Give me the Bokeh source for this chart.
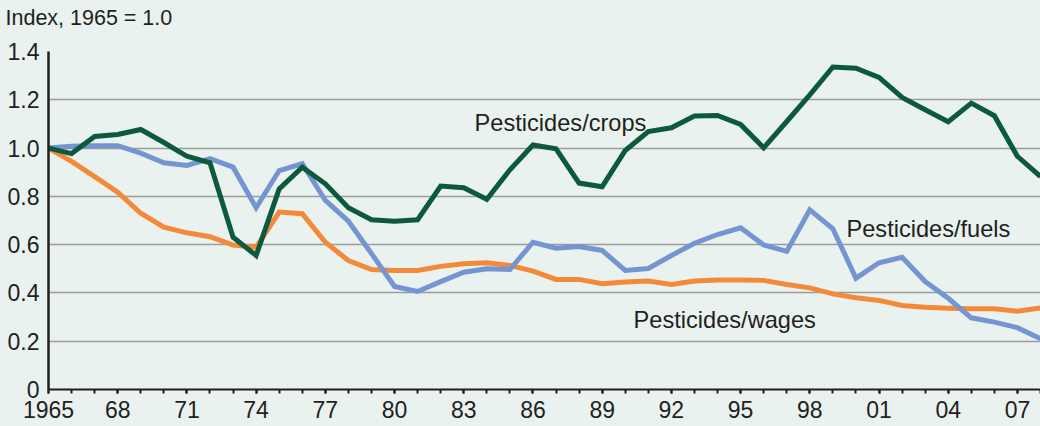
from bokeh.plotting import figure
from bokeh.models import FixedTicker, Label, Range1d
from bokeh.embed import file_html
from bokeh.resources import INLINE

years = list(range(1965, 2009))

crops = [1.000, 0.977, 1.048, 1.056, 1.077, 1.023, 0.966, 0.939, 0.631, 0.555,
         0.831, 0.921, 0.852, 0.753, 0.703, 0.697, 0.703, 0.843, 0.836, 0.788,
         0.910, 1.013, 0.997, 0.855, 0.840, 0.990, 1.068, 1.084, 1.133, 1.135,
         1.098, 1.001, 1.110, 1.220, 1.336, 1.331, 1.293, 1.210, 1.159, 1.109,
         1.186, 1.134, 0.966, 0.882]

fuels = [1.000, 1.008, 1.010, 1.010, 0.979, 0.939, 0.928, 0.956, 0.921, 0.753,
         0.907, 0.935, 0.783, 0.697, 0.563, 0.427, 0.406, 0.447, 0.486, 0.500,
         0.497, 0.610, 0.585, 0.592, 0.576, 0.493, 0.501, 0.555, 0.606, 0.642,
         0.670, 0.599, 0.572, 0.744, 0.666, 0.461, 0.525, 0.548, 0.447, 0.378,
         0.297, 0.279, 0.256, 0.210]

wages = [1.000, 0.945, 0.882, 0.817, 0.730, 0.672, 0.649, 0.633, 0.598, 0.589,
         0.735, 0.728, 0.610, 0.534, 0.497, 0.493, 0.493, 0.510, 0.521, 0.525,
         0.514, 0.490, 0.456, 0.456, 0.438, 0.445, 0.449, 0.435, 0.449, 0.454,
         0.454, 0.452, 0.435, 0.421, 0.396, 0.380, 0.369, 0.348, 0.341, 0.337,
         0.334, 0.334, 0.324, 0.338]

x_tick_values = list(range(1965, 2009, 3))
x_tick_labels = ["1965"] + ["%02d" % (y % 100) for y in x_tick_values[1:]]
y_tick_values = [0, 0.2, 0.4, 0.6, 0.8, 1.0, 1.2, 1.4]
y_tick_labels = ["0", "0.2", "0.4", "0.6", "0.8", "1.0", "1.2", "1.4"]

title_text = "Index, 1965 = 1.0"
series_labels = ["Pesticides/crops", "Pesticides/fuels", "Pesticides/wages"]

BG = "#e9f2ef"
TXT = "#231f20"
GREEN = "#0c5940"
BLUE = "#7495d1"
ORANGE = "#f5893a"
FONT = "Liberation Sans"

p = figure(width=1040, height=426, output_backend="svg", toolbar_location=None,
           x_range=Range1d(1965, 2008), y_range=Range1d(0, 1.4),
           min_border_left=48, min_border_right=0, min_border_top=51,
           min_border_bottom=37)
p.background_fill_color = BG
p.border_fill_color = BG
p.outline_line_color = None

# trailing line lifts the title text up within the top border
p.title.text = title_text + "\n"
p.title.text_font = FONT
p.title.text_font_size = "21.5px"
p.title.text_font_style = "normal"
p.title.text_color = TXT
p.title.align = "left"
p.title.offset = -43
p.title.standoff = -4

p.xgrid.grid_line_color = None
p.ygrid.grid_line_color = "#9c9c9c"
p.ygrid.grid_line_width = 1.5
p.ygrid.ticker = FixedTicker(ticks=y_tick_values)

xa = p.xaxis[0]
xa.ticker = FixedTicker(ticks=x_tick_values, minor_ticks=years)
xa.major_label_overrides = dict(zip(x_tick_values, x_tick_labels))
xa.axis_line_color = TXT
xa.axis_line_width = 2
xa.major_tick_line_color = TXT
xa.minor_tick_line_color = TXT
xa.major_tick_line_width = 2
xa.minor_tick_line_width = 2
xa.major_tick_in = 0
xa.minor_tick_in = 0
xa.major_tick_out = 4
xa.minor_tick_out = 4
xa.major_label_standoff = 7
xa.major_label_text_font = FONT
xa.major_label_text_font_size = "23px"
xa.major_label_text_color = TXT

ya = p.yaxis[0]
ya.ticker = FixedTicker(ticks=y_tick_values)
ya.major_label_overrides = dict(zip(y_tick_values, y_tick_labels))
ya.axis_line_color = TXT
ya.axis_line_width = 2.5
ya.major_tick_line_color = None
ya.minor_tick_line_color = None
ya.major_tick_out = 0
ya.major_tick_in = 0
ya.major_label_standoff = 9
ya.major_label_text_font = FONT
ya.major_label_text_font_size = "23px"
ya.major_label_text_color = TXT

p.line(years, wages, line_color=ORANGE, line_width=5, line_join="miter")
p.line(years, fuels, line_color=BLUE, line_width=5, line_join="miter")
p.line(years, crops, line_color=GREEN, line_width=5, line_join="miter")

label_pos = [(1983.47, 1.105), (1999.59, 0.663), (1990.36, 0.286)]
for (lx, ly), t in zip(label_pos, series_labels):
    p.add_layout(Label(x=lx, y=ly, text=t, text_font=FONT, text_font_size="23.6px",
                       text_color=TXT, text_baseline="alphabetic", text_align="left"))

html = file_html(p, INLINE)
html = html.replace("<head>", "<head><style>body{background:%s;}</style>" % BG, 1)
open("out.html", "w").write(html)
